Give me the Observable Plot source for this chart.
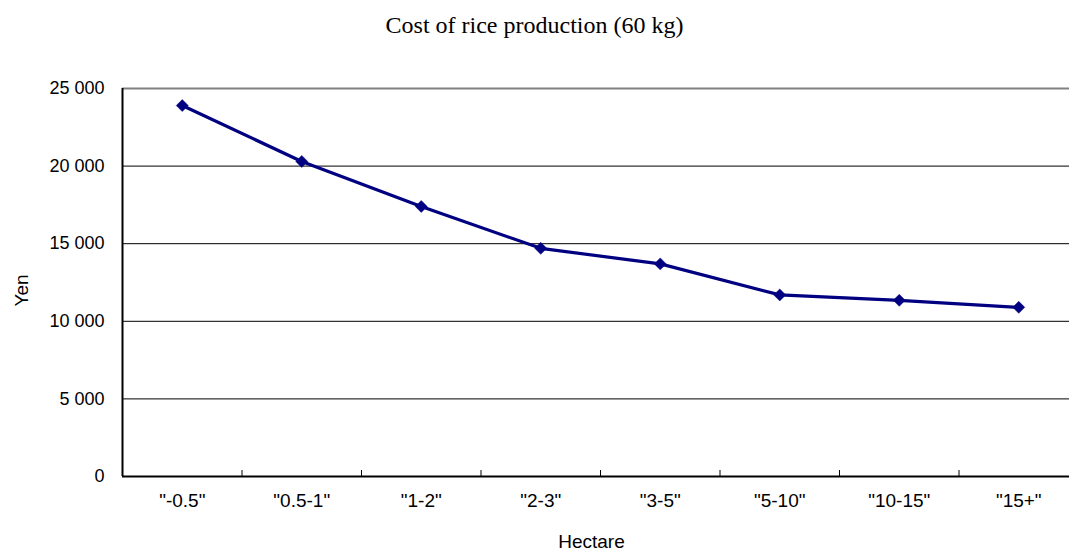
<!DOCTYPE html>
<html><head><meta charset="utf-8">
<script src="https://cdn.jsdelivr.net/npm/d3@7"></script>
<script src="https://cdn.jsdelivr.net/npm/@observablehq/plot@0.6"></script>
<style>body{margin:0;background:#fff;} svg{display:block;}</style>
</head><body><div id="chart"></div>
<script>
const title = "Cost of rice production (60 kg)";
const categories = ['"-0.5"', '"0.5-1"', '"1-2"', '"2-3"', '"3-5"', '"5-10"', '"10-15"', '"15+"'];
const costs = [23900, 20300, 17400, 14700, 13700, 11700, 11350, 10900];
const yTicks = [0, 5000, 10000, 15000, 20000, 25000];
const xLabel = "Hectare";
const yLabel = "Yen";

const data = categories.map((c, i) => ({i, c, v: costs[i]}));
const boundaries = categories.slice(1).map((_, i) => i + 0.5);
const fmt = d => d3.format(",")(d).replace(/,/g, "\u00a0");
const yMax = yTicks[yTicks.length - 1];

const chart = Plot.plot({
  width: 1069, height: 551,
  marginLeft: 122, marginRight: 0, marginTop: 88, marginBottom: 75,
  style: {fontFamily: "'Liberation Sans', Arial, sans-serif", background: "#fff", color: "#000", overflow: "hidden"},
  x: {domain: [-0.5, categories.length - 0.5], range: [122, 1078]},
  y: {domain: [0, yMax]},
  marks: [
    Plot.ruleY(yTicks.filter(d => d > 0 && d < yMax), {stroke: "#000", strokeWidth: 1}),
    Plot.ruleY([yMax], {stroke: "#808080", strokeWidth: 2}),
    Plot.ruleX(boundaries, {stroke: "#000", strokeWidth: 1, insetTop: 382}),
    Plot.ruleY([0], {stroke: "#000", strokeWidth: 2}),
    Plot.ruleX([-0.5], {stroke: "#000", strokeWidth: 2}),
    Plot.axisY({ticks: yTicks, tickFormat: fmt, tickSize: 0, tickPadding: 18, fontSize: 18, label: null}),
    Plot.axisX({ticks: d3.range(categories.length), tickFormat: i => categories[i], tickSize: 0, tickPadding: 17, fontSize: 19, label: null}),
    Plot.line(data, {x: "i", y: "v", stroke: "#000080", strokeWidth: 3.2}),
    Plot.dot(data, {x: "i", y: "v", symbol: "diamond2", r: 5.4, fill: "#000080", stroke: "#000080", strokeWidth: 0.5}),
    Plot.text([yLabel], {frameAnchor: "left", textAnchor: "middle", lineAnchor: "middle", dx: -101, dy: 8, rotate: -90, fontSize: 19}),
    Plot.text([xLabel], {frameAnchor: "bottom", textAnchor: "middle", lineAnchor: "middle", dx: -4.5, dy: 65, fontSize: 19}),
    Plot.text([title], {frameAnchor: "top", textAnchor: "middle", lineAnchor: "middle", dx: -61.5, dy: -63, fontSize: 24, fontFamily: "'Liberation Serif', 'Times New Roman', serif"})
  ]
});
document.getElementById("chart").append(chart);
</script>
</body></html>
